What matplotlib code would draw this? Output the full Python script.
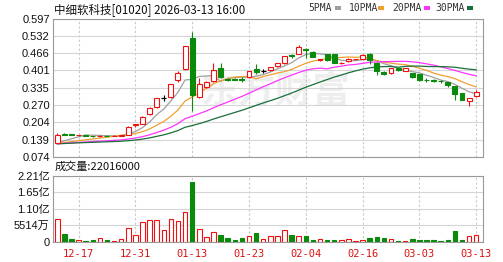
import matplotlib
matplotlib.use('Agg')
import matplotlib.pyplot as plt
from matplotlib.patches import Rectangle
import numpy as np
import pandas as pd

# ---------------- data ----------------
dates = ["12-12", "12-15", "12-16", "12-17", "12-18", "12-19", "12-22", "12-23", "12-24", "12-29",
         "12-30", "12-31", "01-02", "01-05", "01-06", "01-07", "01-08", "01-09", "01-12", "01-13",
         "01-14", "01-15", "01-16", "01-19", "01-20", "01-21", "01-22", "01-23", "01-26", "01-27",
         "01-28", "01-29", "01-30", "02-02", "02-03", "02-04", "02-05", "02-06", "02-09", "02-10",
         "02-11", "02-12", "02-13", "02-16", "02-20", "02-23", "02-24", "02-25", "02-26", "02-27",
         "03-02", "03-03", "03-04", "03-05", "03-06", "03-09", "03-10", "03-11", "03-12", "03-13"]

opens = [0.127, 0.161, 0.159, 0.155, 0.155, 0.153, 0.151, 0.154, 0.152, 0.153,
         0.157, 0.193, 0.199, 0.235, 0.261, 0.295, 0.301, 0.364, 0.404, 0.525,
         0.301, 0.336, 0.361, 0.408, 0.368, 0.368, 0.367, 0.375, 0.404, 0.399,
         0.402, 0.417, 0.427, 0.460, 0.464, 0.483, 0.471, 0.440, 0.462, 0.462,
         0.428, 0.435, 0.442, 0.443, 0.464, 0.429, 0.395, 0.389, 0.408, 0.400,
         0.389, 0.386, 0.365, 0.363, 0.360, 0.355, 0.341, 0.314, 0.283, 0.305]
highs = [0.163, 0.163, 0.160, 0.158, 0.156, 0.154, 0.155, 0.155, 0.155, 0.157,
         0.190, 0.199, 0.228, 0.262, 0.297, 0.307, 0.351, 0.400, 0.494, 0.545,
         0.373, 0.362, 0.427, 0.427, 0.370, 0.370, 0.375, 0.400, 0.425, 0.406,
         0.414, 0.429, 0.456, 0.462, 0.498, 0.485, 0.473, 0.444, 0.464, 0.464,
         0.432, 0.447, 0.445, 0.462, 0.466, 0.431, 0.400, 0.410, 0.410, 0.410,
         0.391, 0.388, 0.372, 0.369, 0.366, 0.357, 0.343, 0.316, 0.297, 0.325]
lows = [0.125, 0.156, 0.156, 0.154, 0.152, 0.149, 0.150, 0.151, 0.151, 0.152,
        0.155, 0.188, 0.197, 0.232, 0.258, 0.283, 0.298, 0.356, 0.402, 0.247,
        0.298, 0.333, 0.358, 0.372, 0.362, 0.363, 0.358, 0.372, 0.387, 0.392,
        0.400, 0.415, 0.425, 0.448, 0.462, 0.449, 0.450, 0.435, 0.437, 0.428,
        0.426, 0.433, 0.441, 0.441, 0.425, 0.383, 0.383, 0.387, 0.400, 0.398,
        0.372, 0.362, 0.357, 0.356, 0.352, 0.338, 0.290, 0.287, 0.266, 0.300]
closes = [0.155, 0.158, 0.157, 0.157, 0.153, 0.151, 0.154, 0.152, 0.154, 0.156,
          0.188, 0.196, 0.226, 0.260, 0.295, 0.295, 0.349, 0.391, 0.492, 0.306,
          0.351, 0.357, 0.402, 0.376, 0.366, 0.366, 0.366, 0.398, 0.396, 0.399,
          0.412, 0.427, 0.454, 0.456, 0.489, 0.477, 0.452, 0.442, 0.439, 0.430,
          0.430, 0.445, 0.443, 0.460, 0.439, 0.399, 0.388, 0.408, 0.402, 0.408,
          0.374, 0.364, 0.363, 0.361, 0.359, 0.345, 0.311, 0.289, 0.295, 0.320]
# volume in 万股
volumes = [7590, 2670, 1000, 670, 400, 670, 1200, 700, 400, 1000,
           4570, 2340, 6570, 7240, 7240, 3780, 7590, 7000, 9900, 20150,
           4340, 1570, 3100, 2240, 1340, 670, 1100, 2000, 2900, 1000,
           1770, 1770, 4000, 2340, 1770, 1770, 670, 900, 670, 670,
           670, 1000, 300, 670, 1200, 1570, 1200, 900, 300, 300,
           1000, 500, 670, 670, 400, 670, 3440, 670, 1770, 2202]
# closes before the first visible day (only feed the moving averages)
history_closes = [0.118, 0.119, 0.120, 0.121, 0.122, 0.123, 0.124, 0.125, 0.124, 0.123,
                  0.122, 0.122, 0.121, 0.122, 0.123, 0.124, 0.123, 0.122, 0.121, 0.120,
                  0.121, 0.122, 0.121, 0.120, 0.120, 0.121, 0.120, 0.119, 0.120]

ma_periods = [5, 10, 20, 30]
ma_names = ["5PMA", "10PMA", "20PMA", "30PMA"]
ma_colors = ["#a0a0a0", "#f0a030", "#ff33ff", "#1a6e3a"]

price_tick_labels = ["0.074", "0.139", "0.204", "0.270", "0.335", "0.401", "0.466", "0.532", "0.597"]
vol_tick_values = [0, 5514, 11028, 16542, 22056]
vol_tick_labels = ["0", "5514万", "1.10亿", "1.65亿", "2.21亿"]
label_idx = [3, 11, 19, 27, 35, 43, 51, 59]

title = "中细软科技[01020] 2026-03-13 16:00"
vol_title = "成交量:22016000"

# ---------------- style ----------------
FAM = ['Liberation Sans', 'Noto Sans CJK SC']
CJK = ['Noto Sans CJK SC', 'DejaVu Sans']
RED = '#ee1111'
GREEN = '#0a8a0a'
W, H = 503, 262

fig = plt.figure(figsize=(W / 100, H / 100), dpi=100)
fig.patch.set_facecolor('white')
ax = fig.add_axes([53.3 / W, 1 - 156.7 / H, 430 / W, 138.2 / H])
axv = fig.add_axes([53.3 / W, 1 - 241.7 / H, 430 / W, 65.7 / H])

n = len(closes)
x = np.arange(n)
bw = 0.7

# moving averages
full = pd.Series(history_closes + closes)
for p, c in zip(ma_periods, ma_colors):
    ma = full.rolling(p).mean().values[-n:]
    ax.plot(x, ma, color=c, lw=0.9, zorder=2)

for i in range(n):
    o, h, l, c = opens[i], highs[i], lows[i], closes[i]
    if abs(c - o) < 1e-9:
        col = 'black'
        ax.vlines(i, l, h, color=col, lw=0.8, zorder=3)
        ax.hlines(o, i - bw / 2, i + bw / 2, color=col, lw=0.9, zorder=3)
    elif c > o:
        col = RED
        ax.vlines(i, l, h, color=col, lw=0.8, zorder=3)
        ax.add_patch(Rectangle((i - bw / 2, o), bw, c - o, facecolor='white',
                               edgecolor=col, lw=0.8, zorder=4))
    else:
        col = GREEN
        ax.vlines(i, l, h, color=col, lw=0.8, zorder=3)
        ax.add_patch(Rectangle((i - bw / 2, c), bw, o - c, facecolor=col,
                               edgecolor=col, lw=0.8, zorder=4))
    # volume
    if c >= o:
        axv.add_patch(Rectangle((i - 0.32, 0), 0.64, volumes[i], facecolor='white',
                                edgecolor=RED if c > o else RED, lw=0.8, zorder=3))
    else:
        axv.add_patch(Rectangle((i - 0.32, 0), 0.64, volumes[i], facecolor=GREEN,
                                edgecolor=GREEN, lw=0.8, zorder=3))

ptick = [float(s) for s in price_tick_labels]
ax.set_xlim(-0.56, n + 0.0)
ax.set_ylim(ptick[0], ptick[-1])
ax.set_yticks(ptick)
ax.set_yticklabels(price_tick_labels)
ax.set_xticks([])
axv.set_xlim(-0.56, n + 0.0)
axv.set_ylim(0, vol_tick_values[-1])
axv.set_yticks(vol_tick_values)
axv.set_yticklabels(vol_tick_labels)
axv.set_xticks(label_idx)
axv.set_xticklabels([dates[i] for i in label_idx])

for a in (ax, axv):
    a.set_axisbelow(True)
    a.yaxis.grid(True, color='#d6d6d6', lw=0.8, ls='-')
    for i in label_idx:
        a.axvline(i, color='#c8c8c8', lw=0.8, ls=(0, (2, 2)), zorder=0.5)
    for s in a.spines.values():
        s.set_color('#999999')
        s.set_linewidth(0.8)
    a.tick_params(length=0, pad=2.5, labelsize=8)
    for t in a.get_yticklabels():
        t.set_family(FAM)
        t.set_color('#111111')

axv.tick_params(axis='x', pad=5.5, labelsize=7.5)
for t in axv.get_xticklabels():
    t.set_color('#dd1111')
    t.set_family(['DejaVu Sans Mono', 'DejaVu Sans'])

# watermark
ax.text(0.518, 0.47, "东方财富", transform=ax.transAxes, ha='center', va='center',
        fontsize=27, color='#eeeeee', family=CJK, fontweight='bold', zorder=0.3)

fig.text(54 / W, 1 - 10 / H, title, ha='left', va='center', fontsize=8.3,
         family=CJK, color='#111111')
fig.text(55 / W, 1 - 167 / H, vol_title, ha='left', va='center', fontsize=8,
         family=CJK, color='#111111')

# legend at top right
leg_x = [308, 349, 392, 435]
mark_x = [335, 378, 424, 467]
for name, c, tx, mx in zip(ma_names, ma_colors, leg_x, mark_x):
    fig.text(tx / W, 1 - 8 / H, name, ha='left', va='center', fontsize=7,
             family=['DejaVu Sans Mono', 'DejaVu Sans'], color='#333333')
    fig.patches.append(Rectangle((mx / W, 1 - 10 / H), 6 / W, 4 / H, facecolor=c,
                                 edgecolor='none', transform=fig.transFigure, figure=fig))

fig.savefig('out.png', dpi=100, facecolor='white')
